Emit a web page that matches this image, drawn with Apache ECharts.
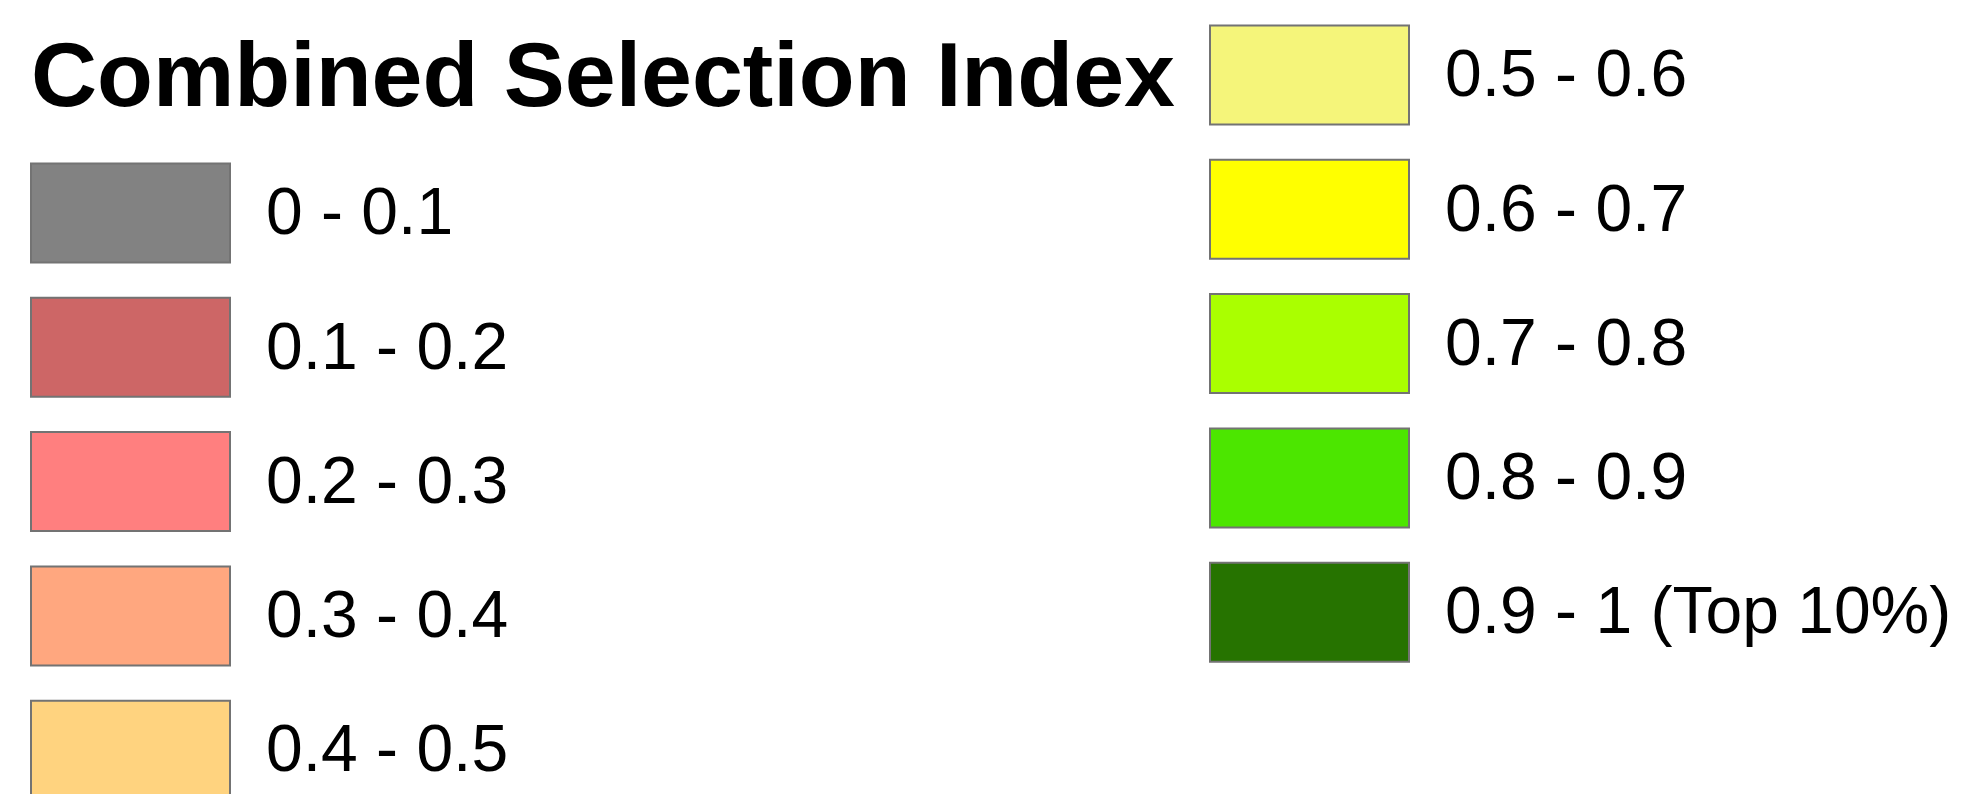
<!DOCTYPE html>
<html>
<head>
<meta charset="utf-8">
<script src="https://cdn.jsdelivr.net/npm/echarts@6/dist/echarts.min.js"></script>
<style>
html,body{margin:0;padding:0;background:#fff;}
#chart{width:1965px;height:794px;}
</style>
</head>
<body>
<div id="chart"></div>
<script>
const titleText = 'Combined Selection Index';
const classLabels = ['0 - 0.1','0.1 - 0.2','0.2 - 0.3','0.3 - 0.4','0.4 - 0.5',
                     '0.5 - 0.6','0.6 - 0.7','0.7 - 0.8','0.8 - 0.9','0.9 - 1 (Top 10%)'];
const classColors = ['#828282','#CD6666','#FF7F7F','#FFA77F','#FFD37F',
                     '#F5F57A','#FFFF00','#AAFF00','#4CE600','#267300'];
const columnOf = [0,0,0,0,0,1,1,1,1,1];
const rowOf    = [0,1,2,3,4,0,1,2,3,4];

const FONT = '"Liberation Sans", Arial, Helvetica, sans-serif';
const colX = [31, 1210];
const colTop = [163.5, 25.5];
const step = 134.3;
const sw = 199, sh = 99;
const labelOffset = 235;

const elements = [];
elements.push({
  type: 'text', x: 31, y: 80.5,
  style: { text: titleText, fill: '#000', font: 'bold 91.5px ' + FONT,
           textAlign: 'left', textVerticalAlign: 'middle' }
});
classLabels.forEach((lab, i) => {
  const c = columnOf[i], r = rowOf[i];
  const x = colX[c], y = colTop[c] + r * step;
  elements.push({
    type: 'rect',
    shape: { x: x, y: y, width: sw, height: sh },
    style: { fill: classColors[i], stroke: '#737373', lineWidth: 2 }
  });
  elements.push({
    type: 'text', x: x + labelOffset, y: y + sh / 2 + 3,
    style: { text: lab, fill: '#000', font: '66px ' + FONT,
             textAlign: 'left', textVerticalAlign: 'middle' }
  });
});

const chart = echarts.init(document.getElementById('chart'), null, {renderer: 'canvas'});
chart.setOption({
  backgroundColor: '#ffffff',
  animation: false,
  graphic: { elements: elements }
});
</script>
</body>
</html>
